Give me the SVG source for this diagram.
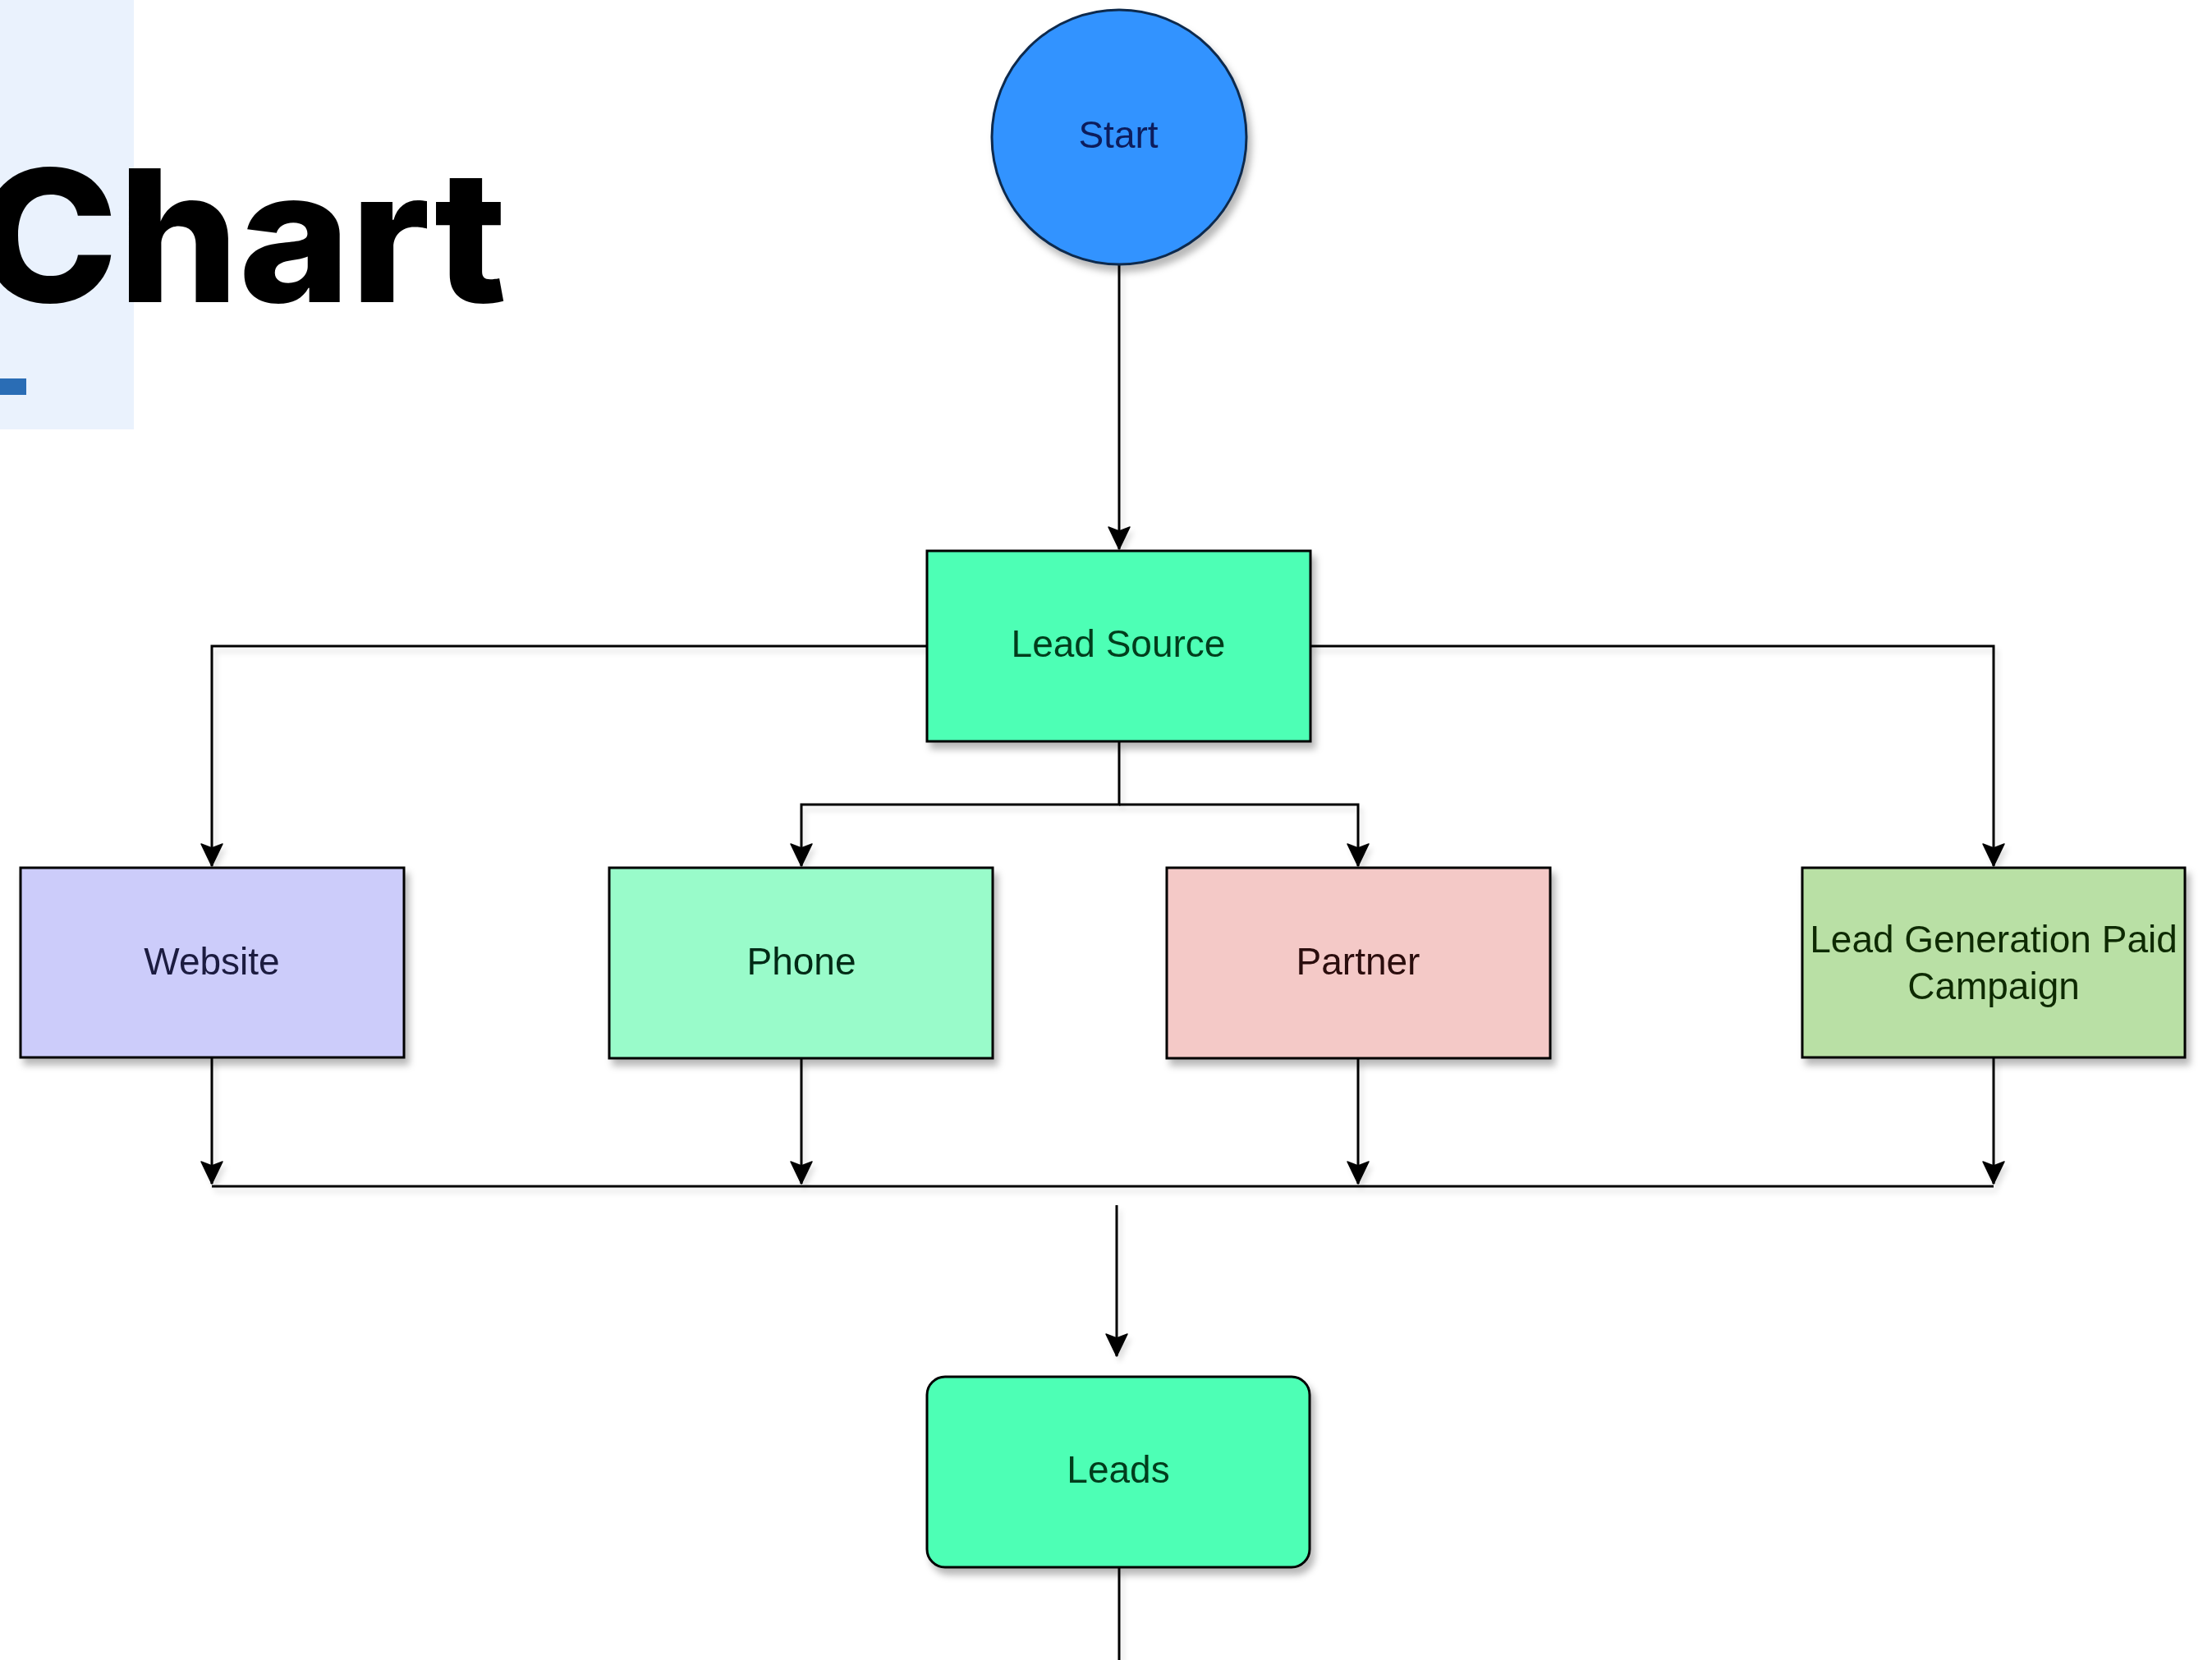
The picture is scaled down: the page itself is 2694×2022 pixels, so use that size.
<svg xmlns="http://www.w3.org/2000/svg" width="2694" height="2022" viewBox="0 0 2694 2022">
<defs>
<filter id="sh" x="-10%" y="-10%" width="130%" height="130%">
<feDropShadow dx="5" dy="8" stdDeviation="4" flood-color="#000" flood-opacity="0.28"/>
</filter>
<filter id="lsh" x="-5%" y="-5%" width="110%" height="110%">
<feDropShadow dx="4" dy="6" stdDeviation="3" flood-color="#000" flood-opacity="0.12"/>
</filter>
<marker id="arr" markerUnits="userSpaceOnUse" markerWidth="32" markerHeight="32" viewBox="-29 -16 32 32" refX="0" refY="0" orient="auto">
<path d="M0,0 L-27,-13 L-22,0 L-27,13 Z" fill="#000" stroke="#000" stroke-width="1.5" stroke-linejoin="round"/>
</marker>
</defs>
<style>
.node{stroke:#000;stroke-width:3}
.lbl{font-family:"Liberation Sans",Arial,sans-serif;font-size:46px;text-anchor:middle}
.conn{fill:none;stroke:#000;stroke-width:3}
</style>
<rect x="0" y="0" width="2694" height="2022" fill="#fff"/>
<g id="title">
<rect x="0" y="0" width="163" height="523" fill="#eaf2fd"/>
<text x="-28" y="368" font-family="Inter,'Open Sans',sans-serif" font-weight="800" font-size="224" textLength="645" lengthAdjust="spacingAndGlyphs" fill="#000">Chart</text>
<rect x="0" y="461" width="32" height="20" fill="#2a6db5"/>
</g>
<g id="connectors" filter="url(#lsh)">
<path class="conn" d="M1363,322 V669" marker-end="url(#arr)"/>
<path class="conn" d="M1129,787 H258 V1055" marker-end="url(#arr)"/>
<path class="conn" d="M1596,787 H2428 V1055" marker-end="url(#arr)"/>
<path class="conn" d="M1363,903 V980 H976 V1055" marker-end="url(#arr)"/>
<path class="conn" d="M1363,980 H1654 V1055" marker-end="url(#arr)"/>
<path class="conn" d="M258,1288 V1442" marker-end="url(#arr)"/>
<path class="conn" d="M976,1290 V1442" marker-end="url(#arr)"/>
<path class="conn" d="M1654,1290 V1442" marker-end="url(#arr)"/>
<path class="conn" d="M2428,1288 V1442" marker-end="url(#arr)"/>
<path class="conn" d="M258,1445 H2428"/>
<path class="conn" d="M1360,1468 V1652" marker-end="url(#arr)"/>
<path class="conn" d="M1363,1909 V2022"/>
</g>
<g id="start" filter="url(#sh)">
<circle cx="1363" cy="167" r="155" fill="#3393ff" stroke="#0f2a4d" stroke-width="3"/>
<text class="lbl" x="1362" y="180" fill="#0b1f5c">Start</text>
</g>
<g id="lead-source" filter="url(#sh)">
<rect class="node" x="1129" y="671" width="467" height="232" fill="#4dffb5"/>
<text class="lbl" x="1362" y="800" fill="#003d1a">Lead Source</text>
</g>
<g id="website" filter="url(#sh)">
<rect class="node" x="25" y="1057" width="467" height="231" fill="#ccccfa"/>
<text class="lbl" x="258" y="1187" fill="#1a1a40">Website</text>
</g>
<g id="phone" filter="url(#sh)">
<rect class="node" x="742" y="1057" width="467" height="232" fill="#99fbca"/>
<text class="lbl" x="976" y="1187" fill="#002a14">Phone</text>
</g>
<g id="partner" filter="url(#sh)">
<rect class="node" x="1421" y="1057" width="467" height="232" fill="#f4c9c7"/>
<text class="lbl" x="1654" y="1187" fill="#2a0a0a">Partner</text>
</g>
<g id="lead-gen" filter="url(#sh)">
<rect class="node" x="2195" y="1057" width="466" height="231" fill="#b9e0a5"/>
<text class="lbl" x="2428" y="1160" fill="#102a05">Lead Generation Paid</text>
<text class="lbl" x="2428" y="1217" fill="#102a05">Campaign</text>
</g>
<g id="leads" filter="url(#sh)">
<rect class="node" x="1129" y="1677" width="466" height="232" rx="22" ry="22" fill="#4dffb5"/>
<text class="lbl" x="1362" y="1806" fill="#003d1a">Leads</text>
</g>
</svg>
